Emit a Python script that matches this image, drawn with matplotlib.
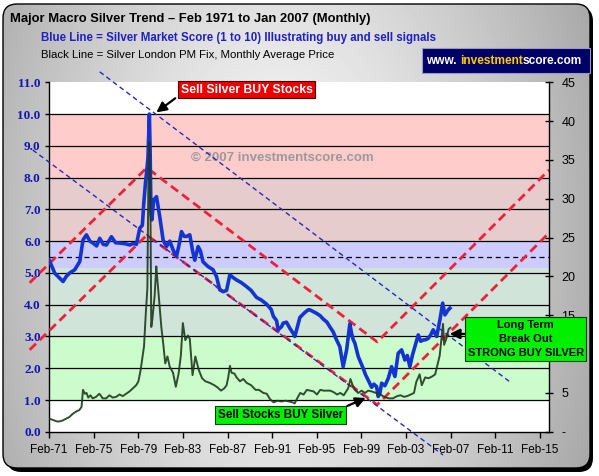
import numpy as np
import matplotlib
matplotlib.use('Agg')
import matplotlib.pyplot as plt
from matplotlib.patches import FancyBboxPatch

# ---------------------------------------------------------------
# data
# ---------------------------------------------------------------
# blue line: silver market score (left axis, 1 to 10)
score_years = [1971.08, 1971.35, 1971.6, 1972.0, 1972.34, 1972.65, 1972.94, 1973.39, 1973.84,
               1974.13, 1974.44, 1974.75, 1975.03, 1975.35, 1975.63, 1975.95, 1976.23, 1976.68,
               1977.05, 1977.43, 1977.9, 1978.32, 1978.65, 1978.92, 1979.22, 1979.45, 1979.58,
               1979.73, 1979.95, 1980.08, 1980.15, 1980.22, 1980.3, 1980.47, 1980.72, 1981.01,
               1981.31, 1981.61, 1981.91, 1982.2, 1982.51, 1982.75, 1982.96, 1983.2, 1983.41,
               1983.7, 1983.95, 1984.15, 1984.45, 1984.65, 1984.89, 1985.34, 1985.79, 1986.1,
               1986.39, 1986.69, 1987.0, 1987.29, 1987.6, 1987.89, 1988.3, 1988.79, 1989.2,
               1989.68, 1990.1, 1990.58, 1991.0, 1991.2, 1991.48, 1991.62, 1991.93, 1992.07,
               1992.37, 1992.67, 1992.97, 1993.12, 1993.35, 1993.57, 1994.0, 1994.31, 1994.46,
               1995.06, 1995.4, 1995.66, 1996.0, 1996.26, 1996.55, 1996.86, 1997.15, 1997.45,
               1997.6, 1997.76, 1998.05, 1998.2, 1998.35, 1998.5, 1998.8, 1999.0, 1999.24,
               1999.45, 1999.69, 2000.0, 2000.2, 2000.45, 2000.59, 2000.74, 2000.9, 2001.19,
               2001.49, 2001.79, 2002.09, 2002.38, 2002.69, 2002.98, 2003.2, 2003.43, 2003.65,
               2003.88, 2004.18, 2004.4, 2004.62, 2004.85, 2005.07, 2005.3, 2005.52, 2005.83,
               2006.12, 2006.37, 2006.57, 2006.87, 2007.02]
score_vals = [5.41, 5.2, 4.99, 4.85, 4.73, 4.9, 5.0, 5.1, 5.36,
              6.04, 6.2, 6.0, 5.94, 5.85, 6.09, 5.9, 5.88, 6.14,
              5.95, 5.94, 5.92, 5.88, 5.93, 5.9, 6.41, 6.5, 7.2,
              7.83, 8.6, 10.0, 8.8, 6.9, 6.67, 7.3, 7.4, 6.77,
              6.04, 5.83, 6.0, 5.73, 5.52, 5.9, 6.3, 6.15, 6.15,
              6.2, 5.7, 5.4, 5.83, 5.7, 5.35, 5.2, 5.1, 4.88,
              4.47, 4.41, 4.45, 4.94, 4.85, 4.78, 4.7, 4.57, 4.45,
              4.23, 4.15, 4.02, 3.85, 3.63, 3.5, 3.21, 3.31, 3.42,
              3.45, 3.26, 3.1, 3.0, 3.3, 3.6, 3.75, 3.84, 3.84,
              3.73, 3.65, 3.55, 3.45, 3.3, 3.15, 2.89, 2.68, 2.05,
              2.3, 2.58, 3.4, 3.1, 2.9, 2.79, 2.37, 2.2, 2.0,
              1.8, 1.63, 1.4, 1.5, 1.42, 1.11, 1.21, 1.53, 1.45,
              1.68, 2.05, 1.74, 2.47, 2.58, 2.26, 2.4, 2.05, 2.4,
              2.68, 3.05, 2.85, 2.89, 2.9, 2.94, 3.05, 3.21, 3.0,
              3.52, 4.05, 3.68, 3.84, 3.89]

# black line: silver London PM fix, monthly average (right axis, USD)
silver_years = [1971.08, 1971.4, 1971.75, 1971.95, 1972.3, 1972.6, 1972.9, 1973.2, 1973.5,
                1973.8, 1974.0, 1974.13, 1974.3, 1974.45, 1974.6, 1974.8, 1975.0, 1975.3,
                1975.6, 1975.9, 1976.2, 1976.5, 1976.8, 1977.1, 1977.4, 1977.7, 1978.0,
                1978.3, 1978.6, 1978.9, 1979.1, 1979.3, 1979.45, 1979.6, 1979.75, 1979.9,
                1980.0, 1980.08, 1980.17, 1980.25, 1980.35, 1980.45, 1980.55, 1980.7, 1980.8,
                1980.95, 1981.15, 1981.35, 1981.5, 1981.7, 1981.9, 1982.2, 1982.45, 1982.7,
                1982.9, 1983.08, 1983.3, 1983.55, 1983.7, 1983.95, 1984.2, 1984.5, 1984.8,
                1985.1, 1985.5, 1985.9, 1986.2, 1986.5, 1986.8, 1987.0, 1987.15, 1987.3,
                1987.45, 1987.7, 1987.9, 1988.2, 1988.5, 1988.8, 1989.2, 1989.6, 1989.9,
                1990.3, 1990.6, 1990.9, 1991.2, 1991.6, 1991.9, 1992.3, 1992.6, 1992.9,
                1993.1, 1993.4, 1993.6, 1993.9, 1994.2, 1994.5, 1994.8, 1995.1, 1995.4,
                1995.7, 1996.0, 1996.3, 1996.6, 1996.9, 1997.2, 1997.5, 1997.9, 1998.1,
                1998.3, 1998.5, 1998.8, 1999.1, 1999.4, 1999.7, 2000.0, 2000.4, 2000.7,
                2001.0, 2001.3, 2001.6, 2001.9, 2002.3, 2002.6, 2002.9, 2003.2, 2003.5,
                2003.8, 2004.0, 2004.3, 2004.5, 2004.8, 2005.1, 2005.4, 2005.7, 2005.9,
                2006.1, 2006.3, 2006.4, 2006.5, 2006.7, 2006.9, 2007.05]
silver_usd = [1.70, 1.55, 1.35, 1.32, 1.45, 1.68, 1.90, 2.3, 2.6,
              2.8, 3.2, 5.4, 4.9, 5.0, 4.4, 4.7, 4.3, 4.5,
              4.9, 4.3, 4.3, 4.7, 4.4, 4.5, 4.8, 4.6, 4.9,
              5.2, 5.6, 6.0, 6.5, 8.0, 9.5, 11.0, 15.0, 18.5,
              34.0, 37.3, 30.0, 13.5, 14.5, 16.0, 17.5, 21.3, 19.5,
              17.0, 13.5, 11.0, 8.8, 9.7, 8.4, 7.6, 5.8, 7.5,
              9.8, 14.0, 11.8, 12.4, 12.0, 7.3, 9.7, 8.0, 6.9,
              6.5, 6.3, 6.0, 5.7, 5.3, 5.6, 6.0, 7.0, 8.5,
              7.6, 7.5, 7.0, 6.5, 6.8, 6.3, 6.0, 5.4, 5.4,
              5.0, 4.9, 4.2, 3.8, 4.0, 3.9, 4.0, 3.9, 3.8,
              3.65, 4.5, 5.0, 4.8, 5.4, 5.3, 5.2, 4.8, 5.4,
              5.3, 5.3, 5.3, 5.1, 4.8, 5.0, 4.7, 5.6, 6.8,
              6.0, 5.4, 5.0, 5.3, 5.0, 5.3, 5.2, 5.0, 4.9,
              4.6, 4.4, 4.3, 4.3, 4.6, 4.7, 4.5, 4.6, 4.8,
              5.0, 6.4, 7.4, 6.0, 7.0, 6.9, 7.1, 7.4, 8.6,
              9.8, 12.6, 13.9, 11.2, 12.0, 13.2, 13.4]

# trend channels drawn by hand on the original (score units)
red_upper_x = [1969.35, 1979.85, 2000.5, 2015.9]
red_upper_y = [4.69, 8.31, 2.83, 8.24]
red_lower_x = [1969.35, 1979.85, 2000.5, 2015.9]
red_lower_y = [2.58, 6.19, 0.85, 6.26]
blue_a_x = [1975.63, 2012.4]
blue_a_y = [11.33, 1.57]
blue_b_x = [1969.62, 2006.4]
blue_b_y = [8.87, -0.73]

# zones behind the score (low, high, colour)
zones = [(1, 3, '#ccfccc'), (3, 5.15, '#d0e4da'), (5.15, 6, '#ccccff'),
         (6, 8, '#e6cccc'), (8, 10, '#ffcccc')]

tick_years = [1971.083 + 4 * i for i in range(12)]
tick_labels = ['Feb-71', 'Feb-75', 'Feb-79', 'Feb-83', 'Feb-87', 'Feb-91',
               'Feb-95', 'Feb-99', 'Feb-03', 'Feb-07', 'Feb-11', 'Feb-15']
left_ticks = list(range(12))
right_ticks = list(range(0, 50, 5))
right_labels = ['-'] + [str(v) for v in right_ticks[1:]]

ARIAL = 'Liberation Sans'
SERIF = 'Liberation Serif'

# ---------------------------------------------------------------
# figure + rounded gradient frame
# ---------------------------------------------------------------
fig = plt.figure(figsize=(5.99, 4.76), dpi=100)
fig.patch.set_facecolor('white')
bg = fig.add_axes([0, 0, 1, 1], zorder=-5)
bg.axis('off')

yy, xx = np.mgrid[0:476, 0:599]
r = np.sqrt(((xx - 280) / 320.0) ** 2 + ((yy - 230) / 520.0) ** 2)
shade = 0.98 - 0.30 * np.clip(r, 0, 1.2) ** 1.3

bg.add_patch(FancyBboxPatch((7, 7), 586, 465, boxstyle='round,pad=0,rounding_size=14',
                            fc='black', ec='none', zorder=0))
frame = FancyBboxPatch((3, 4), 587, 464, boxstyle='round,pad=0,rounding_size=14',
                       fc='none', ec='black', lw=1.0, zorder=2)
img = bg.imshow(shade, cmap='gray', vmin=0, vmax=1, extent=(0, 599, 476, 0),
                aspect='auto', interpolation='bilinear', zorder=1)
bg.add_patch(frame)
img.set_clip_path(frame)
bg.set_xlim(0, 599)
bg.set_ylim(476, 0)

fig.canvas.draw()
rend = fig.canvas.get_renderer()


def fit_width(t, target_px):
    # shrink/grow a text so it spans the same width as in the original
    w = t.get_window_extent(rend).width
    t.set_fontsize(t.get_fontsize() * target_px / w)


# headings
t1 = bg.text(10, 19, 'Major Macro Silver Trend \u2013 Feb 1971 to Jan 2007 (Monthly)',
             fontsize=11, fontweight='bold', family=ARIAL, va='center', ha='left', zorder=3)
fit_width(t1, 360)
t2 = bg.text(41, 38, 'Blue Line = Silver Market Score (1 to 10) Illustrating buy and sell signals',
             fontsize=10, fontweight='bold', family=ARIAL, color='#2020c8', va='center',
             ha='left', zorder=3)
fit_width(t2, 396)
t3 = bg.text(41, 55, 'Black Line = Silver London PM Fix, Monthly Average Price',
             fontsize=10, family=ARIAL, va='center', ha='left', zorder=3)
fit_width(t3, 294)

# web badge
bg.add_patch(plt.Rectangle((422, 48), 168, 25, fc='#000066', ec='#9999cc', lw=0.8, zorder=3))
parts = [('www. ', 'white'), ('investment', '#ffcc00'), ('score.com', 'white')]
x0 = 426
for s, c in parts:
    t = bg.text(x0, 61, s + '|', fontsize=8.6, fontweight='bold', family=ARIAL, color=c,
                va='center', ha='left', zorder=4)
    w_full = t.get_window_extent(rend).width
    t.set_text('|')
    w_bar = t.get_window_extent(rend).width
    t.set_text(s)
    x0 += w_full - w_bar

# ---------------------------------------------------------------
# main chart
# ---------------------------------------------------------------
ax = fig.add_axes([49 / 599, 1 - 431.8 / 476, 500 / 599, 349.5 / 476])
ax.set_xlim(1971.083, 2015.9)
ax.set_ylim(0, 11)
ax.patch.set_facecolor('white')

for lo, hi, c in zones:
    ax.axhspan(lo, hi, color=c, lw=0, zorder=0)
for v in range(1, 11):
    ax.axhline(v, color='black', lw=0.9, zorder=1)
ax.axhline(5.5, color='black', lw=0.9, ls=(0, (4, 3)), zorder=1)

ax.text(0.467, 0.785, '\u00a9 2007 investmentscore.com', transform=ax.transAxes,
        fontsize=9.5, fontweight='bold', family=ARIAL, color='#9a9a9a', ha='center', va='center',
        zorder=2)

ax.plot(red_upper_x, red_upper_y, color='#f0203a', lw=2.0, dashes=(3.2, 1.8), clip_on=False, zorder=3)
ax.plot(red_lower_x, red_lower_y, color='#f0203a', lw=2.0, dashes=(3.2, 1.8), clip_on=False, zorder=3)
ax.plot(blue_a_x, blue_a_y, color='#2828c0', lw=1.0, dashes=(3.5, 2.5), clip_on=False, zorder=3)
ax.plot(blue_b_x, blue_b_y, color='#2828c0', lw=1.0, dashes=(3.5, 2.5), clip_on=False, zorder=3)

ax.plot(score_years, score_vals, color='#1434d2', lw=2.6, solid_joinstyle='round', zorder=4)

ax.set_xticks(tick_years)
ax.set_xticklabels(tick_labels, fontsize=8.5, family=ARIAL)
ax.tick_params(axis='x', direction='out', length=4, width=1, pad=5)
ax.set_yticks(left_ticks)
ax.set_yticklabels(['%.1f' % v for v in left_ticks], fontsize=9.5, fontweight='bold',
                   family=SERIF, color='#1414b4')
ax.tick_params(axis='y', direction='out', length=3, width=1, pad=3)
for side in ['top', 'right']:
    ax.spines[side].set_visible(False)
ax.spines['left'].set_linewidth(1.0)
ax.spines['bottom'].set_linewidth(1.0)

ax2 = ax.twinx()
ax2.set_ylim(0, 45)
ax2.plot(silver_years, silver_usd, color='#1e3a1e', lw=1.4, alpha=0.9, zorder=5)
ax2.set_yticks(right_ticks)
ax2.set_yticklabels(right_labels, fontsize=9, family=ARIAL)
ax2.tick_params(axis='y', direction='inout', length=6, width=1, pad=6)
for side in ['top', 'left', 'bottom']:
    ax2.spines[side].set_visible(False)
ax2.spines['right'].set_linewidth(1.0)

# ---------------------------------------------------------------
# call-outs
# ---------------------------------------------------------------
arrow = dict(arrowstyle='-|>,head_length=0.6,head_width=0.3', color='black', lw=1.6)
ax2.annotate('', xy=(1980.5, 10.0), xytext=(1982.6, 10.55), xycoords=ax.transData,
             textcoords=ax.transData, arrowprops=arrow, annotation_clip=False)
ax2.annotate('', xy=(1999.7, 1.1), xytext=(1997.6, 0.78), xycoords=ax.transData,
             textcoords=ax.transData, arrowprops=arrow, annotation_clip=False)
ax2.annotate('', xy=(2006.75, 3.08), xytext=(2008.6, 3.08), xycoords=ax.transData,
             textcoords=ax.transData, arrowprops=arrow, annotation_clip=False)

ax2.text(1988.8, 10.77, 'Sell Silver BUY Stocks', transform=ax.transData, fontsize=8.8,
         fontweight='bold', family=ARIAL, color='white', ha='center', va='center', zorder=6,
         bbox=dict(boxstyle='square,pad=0.22', fc='#ee0000', ec='#500000', lw=0.8))
ax2.text(1991.8, 0.52, 'Sell Stocks BUY Silver', transform=ax.transData, fontsize=8.4,
         fontweight='bold', family=ARIAL, color='black', ha='center', va='center', zorder=6,
         bbox=dict(boxstyle='square,pad=0.25', fc='#00f000', ec='#004000', lw=0.8))
ax2.text(2013.8, 2.92, 'Long Term\nBreak Out\nSTRONG BUY SILVER', transform=ax.transData,
         fontsize=8.0, fontweight='bold', family=ARIAL, color='black', ha='center', va='center',
         linespacing=1.55, zorder=6, clip_on=False,
         bbox=dict(boxstyle='square,pad=0.2', fc='#00f000', ec='#004000', lw=0.8))

fig.savefig('out.png', dpi=100)
